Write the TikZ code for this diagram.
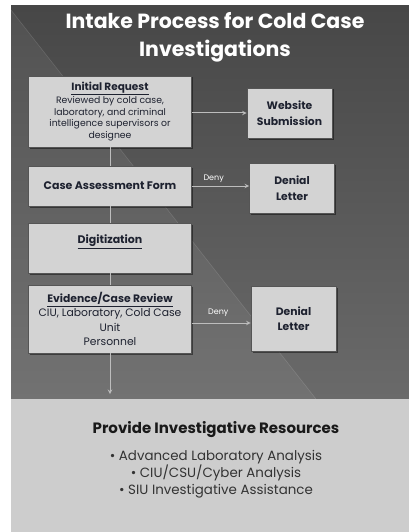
\documentclass[tikz,border=0pt]{standalone}
\usepackage{fontspec}
\setmainfont{Poppins}
\usepackage{tikz}
\usetikzlibrary{arrows}
\usetikzlibrary{positioning}
\usetikzlibrary{shadows}
\definecolor{slidedark}{HTML}{474747}
\definecolor{slidemid}{HTML}{6A6A6A}
\definecolor{panelgray}{HTML}{CDCDCD}
\definecolor{boxgray}{HTML}{D3D3D3}
\definecolor{boxedge}{HTML}{555555}
\definecolor{linkgray}{HTML}{BDBDBD}
\definecolor{inktext}{HTML}{1E2230}
\tikzstyle{stepbox}=[rectangle,draw=boxedge,fill=boxgray,line width=0.8pt,
  align=center,text=inktext,inner sep=2pt,
  drop shadow={shadow xshift=1.5pt,shadow yshift=-1.5pt,fill=black,opacity=0.45}]
\tikzstyle{sidebox}=[stepbox,minimum width=85pt]
\tikzstyle{suite}=[->,>=stealth,draw=linkgray,line width=1pt]
\tikzstyle{deny}=[text=white,font=\fontsize{8}{9}\selectfont,inner sep=1pt]
\begin{document}
\begin{tikzpicture}[x=1pt,y=-1pt]
\useasboundingbox (0,0) rectangle (409,532);
%fond
\shade[top color=slidedark,bottom color=slidemid] (11,6) rectangle (409,399);
\fill[white,opacity=0.06] (11,10) -- (316,399) -- (11,399) -- cycle;
\draw[white,opacity=0.12,line width=0.6pt] (11,10) -- (316,399);
\fill[panelgray] (11,399) rectangle (409,532);
\node[text=white,align=center,font=\fontsize{20.5}{28}\selectfont\bfseries] (title) at (215,37)
  {Intake Process for Cold Case\\Investigations};
%etapes
\node[stepbox,minimum width=163pt,minimum height=71pt,font=\fontsize{9.3}{11.7}\selectfont] (ireq) at (110,111.5)
  {{\fontsize{10.5}{11.7}\selectfont\textbf{\underline{Initial Request}}}\\Reviewed by cold case,\\laboratory, and criminal\\intelligence supervisors or\\designee};
\node[stepbox,minimum width=163pt,minimum height=40pt,font=\fontsize{11}{12}\selectfont\bfseries] (caf) at (110,186)
  {Case Assessment Form};
\node[stepbox,minimum width=163pt,minimum height=50pt,font=\fontsize{11}{12}\selectfont\bfseries] (digi) at (110,248)
  {\underline{Digitization}\\[6pt]\mbox{}};
\node[stepbox,minimum width=163pt,minimum height=68pt,font=\fontsize{10.8}{14.5}\selectfont] (evid) at (110,319)
  {\textbf{\underline{Evidence/Case Review}}\\CIU, Laboratory, Cold Case\\Unit\\Personnel};
\node[sidebox,minimum height=50pt,font=\fontsize{10.8}{15.5}\selectfont\bfseries] (web) at (289.5,113)
  {Website\\Submission};
\node[sidebox,minimum height=50pt,font=\fontsize{10.8}{15.5}\selectfont\bfseries] (den1) at (292,188)
  {Denial\\Letter};
\node[sidebox,minimum height=65pt,font=\fontsize{10.8}{15.5}\selectfont\bfseries] (den2) at (293.5,318.5)
  {Denial\\Letter};
\coordinate (arrend) at (110,394);
%ressources
\node[text=black!90,font=\fontsize{15}{17}\selectfont\bfseries] (res) at (216,430)
  {Provide Investigative Resources};
\node[text=black!80,align=center,font=\fontsize{13.4}{17}\selectfont] (reslist) at (216,474)
  {• Advanced Laboratory Analysis\\• CIU/CSU/Cyber Analysis\\• SIU Investigative Assistance};
%fleches
\draw[draw=linkgray,line width=1pt] (ireq) -- (caf);
\draw[draw=linkgray,line width=1pt] (caf) -- (digi);
\draw[draw=linkgray,line width=1pt] (digi) -- (evid);
\draw[suite] (evid) -- (arrend);
\draw[suite] (ireq.east |- web.west) -- (web.west);
\draw[suite] (caf.east) -- (caf.east -| den1.west) node[deny,pos=0.38,above=2pt]{Deny};
\draw[suite] ([yshift=-4pt]evid.east) -- ([yshift=-4pt]evid.east -| den2.west) node[deny,pos=0.45,above=5pt]{Deny};
\end{tikzpicture}
\end{document}
